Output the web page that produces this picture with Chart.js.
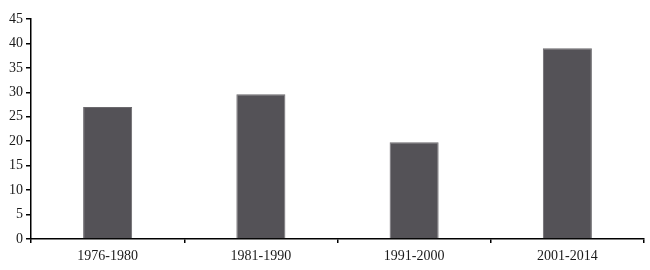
<!DOCTYPE html>
<html>
<head>
<meta charset="utf-8">
<script src="https://cdn.jsdelivr.net/npm/chart.js@4"></script>
<style>
  html, body { margin: 0; padding: 0; background: #fff; }
  #wrap { width: 650px; height: 270px; }
</style>
</head>
<body>
<div id="wrap"><canvas id="chart-area" width="650" height="270"></canvas></div>
<script>
var categories = ['1976-1980', '1981-1990', '1991-2000', '2001-2014'];
var values = [27.0, 29.6, 19.8, 39.0];
var yTicks = [0, 5, 10, 15, 20, 25, 30, 35, 40, 45];

var tickFont = { family: 'Liberation Serif', size: 14 };

var config = {
    type: 'bar',
    data: {
        labels: categories,
        datasets: [{
            data: values,
            backgroundColor: '#545257',
            borderColor: '#6b696d',
            borderWidth: 1,
            barPercentage: 0.32,
            categoryPercentage: 1
        }]
    },
    options: {
        responsive: false,
        animation: false,
        layout: { padding: { top: 19, right: 6, bottom: 0, left: 0 } },
        plugins: { legend: { display: false }, tooltip: { enabled: false } },
        scales: {
            x: {
                grid: {
                    offset: true,
                    drawOnChartArea: false,
                    drawTicks: true,
                    tickLength: 4,
                    color: '#000',
                    lineWidth: 1.5
                },
                border: { color: '#000', width: 1.5 },
                ticks: { font: tickFont, color: '#1a1a1a', padding: 5, maxRotation: 0 },
                afterFit: function (scale) { scale.height = 31; }
            },
            y: {
                min: 0,
                max: 45,
                afterBuildTicks: function (scale) {
                    scale.ticks = yTicks.map(function (v) { return { value: v }; });
                },
                grid: {
                    drawOnChartArea: false,
                    drawTicks: true,
                    tickLength: 5,
                    color: '#000',
                    lineWidth: 1.5
                },
                border: { color: '#000', width: 1.5 },
                ticks: { font: tickFont, color: '#1a1a1a', padding: 3 },
                afterFit: function (scale) { scale.width = 31; }
            }
        }
    }
};

var ctx = document.getElementById('chart-area').getContext('2d');
window.myBar = new Chart(ctx, config);
</script>
</body>
</html>
